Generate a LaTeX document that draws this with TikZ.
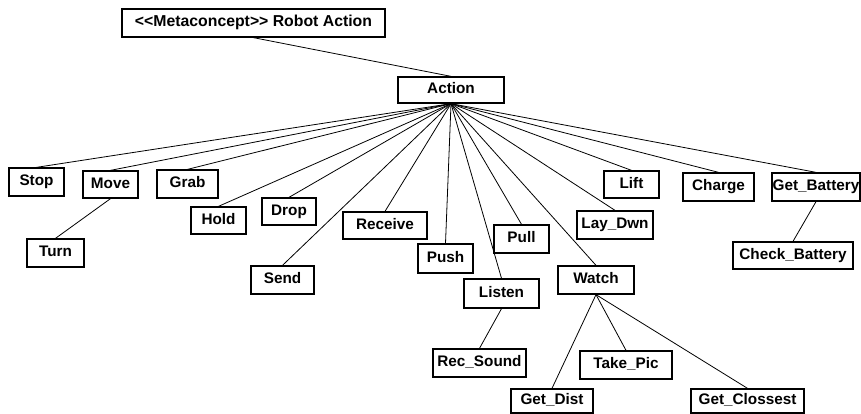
\documentclass[tikz,border=0pt]{standalone}
\usepackage{fontspec}
\setmainfont{Liberation Sans}
\tikzset{
  box/.style={draw, line width=1.3pt, inner sep=0pt, font=\fontsize{15.3}{18}\selectfont\bfseries,
              text height=11pt, text depth=3.2pt},
  link/.style={draw, line width=0.8pt}
}
\begin{document}
\begin{tikzpicture}[x=1pt,y=-1pt]
\useasboundingbox (0,0) rectangle (861,414);
% top level
\node[box, minimum width=263pt, minimum height=28pt, font=\fontsize{15.8}{18}\selectfont\bfseries] (meta) at (253.5,23) {{<}{<}Metaconcept{>}{>} Robot Action};
\node[box, minimum width=106pt, minimum height=26pt] (action) at (451,90) {Action};
% direct children of Action
\node[box, minimum width=55pt, minimum height=28pt] (stop) at (36.5,182) {Stop};
\node[box, minimum width=55pt, minimum height=27pt] (move) at (110.5,184.5) {Move};
\node[box, minimum width=61pt, minimum height=28pt] (grab) at (187.5,184) {Grab};
\node[box, minimum width=55pt, minimum height=27pt] (hold) at (218.5,220.5) {Hold};
\node[box, minimum width=54pt, minimum height=27pt] (drop) at (289,211.5) {Drop};
\node[box, minimum width=63pt, minimum height=28pt] (send) at (282.5,280) {Send};
\node[box, minimum width=84pt, minimum height=27pt] (receive) at (385,225.5) {Receive};
\node[box, minimum width=55pt, minimum height=29pt] (push) at (445.5,258.5) {Push};
\node[box, minimum width=55pt, minimum height=28pt] (pull) at (521.5,239) {Pull};
\node[box, minimum width=75pt, minimum height=29pt] (listen) at (501.5,293.5) {Listen};
\node[box, minimum width=76pt, minimum height=28pt] (watch) at (596,280) {Watch};
\node[box, minimum width=76pt, minimum height=28pt] (laydwn) at (615,225) {Lay\_Dwn};
\node[box, minimum width=55pt, minimum height=27pt] (lift) at (631.5,184.5) {Lift};
\node[box, minimum width=71pt, minimum height=28pt] (charge) at (718.5,187) {Charge};
\node[box, minimum width=88pt, minimum height=28pt] (getbattery) at (816,187) {Get\_Battery};
% grandchildren
\node[box, minimum width=57pt, minimum height=28pt] (turn) at (55.5,253) {Turn};
\node[box, minimum width=93pt, minimum height=28pt] (recsound) at (479.5,363) {Rec\_Sound};
\node[box, minimum width=92pt, minimum height=28pt] (takepic) at (626,365) {Take\_Pic};
\node[box, minimum width=82pt, minimum height=24pt] (getdist) at (552,401) {Get\_Dist};
\node[box, minimum width=113pt, minimum height=24pt] (getclossest) at (747.5,401) {Get\_Clossest};
\node[box, minimum width=120pt, minimum height=27pt] (checkbattery) at (793,255.5) {Check\_Battery};
% connectors
\draw[link] (meta.south) -- (action.north);
\foreach \c in {stop,move,grab,hold,drop,send,receive,push,pull,listen,watch,laydwn,lift,charge,getbattery}
  \draw[link] (action.south) -- (\c.north);
\draw[link] (move.south) -- (turn.north);
\draw[link] (listen.south) -- (recsound.north);
\draw[link] (watch.south) -- (getdist.north);
\draw[link] (watch.south) -- (takepic.north);
\draw[link] (watch.south) -- (getclossest.north);
\draw[link] (getbattery.south) -- (checkbattery.north);
\end{tikzpicture}
\end{document}
